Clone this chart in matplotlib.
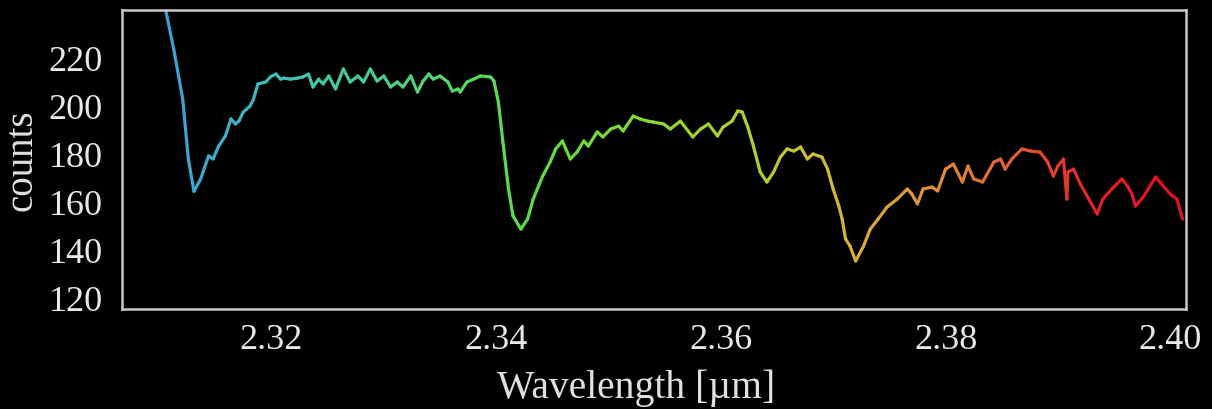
import numpy as np
import matplotlib
matplotlib.use("Agg")
import matplotlib.pyplot as plt
from matplotlib.collections import LineCollection
from matplotlib.colors import LinearSegmentedColormap

# spectrum
wavelength = [2.3103, 2.3106, 2.3113, 2.3121, 2.3126, 2.3131, 2.3137, 2.3144, 2.3148, 2.3153,
              2.3159, 2.3164, 2.3168, 2.3171, 2.3175, 2.3181, 2.3184, 2.3188, 2.3195, 2.3199,
              2.3204, 2.3208, 2.3211, 2.3217, 2.3223, 2.3228, 2.3233, 2.3237, 2.3242, 2.3246,
              2.3251, 2.3257, 2.3264, 2.3270, 2.3277, 2.3282, 2.3288, 2.3294, 2.3300, 2.3306,
              2.3312, 2.3317, 2.3324, 2.3330, 2.3335, 2.3340, 2.3344, 2.3350, 2.3357, 2.3361,
              2.3366, 2.3368, 2.3374, 2.3380, 2.3386, 2.3395, 2.3398, 2.3402, 2.3406, 2.3411,
              2.3415, 2.3422, 2.3428, 2.3433, 2.3441, 2.3448, 2.3453, 2.3459, 2.3462, 2.3466,
              2.3472, 2.3478, 2.3482, 2.3490, 2.3495, 2.3502, 2.3509, 2.3513, 2.3522, 2.3528,
              2.3535, 2.3540, 2.3549, 2.3555, 2.3564, 2.3575, 2.3582, 2.3589, 2.3597, 2.3602,
              2.3610, 2.3615, 2.3619, 2.3624, 2.3629, 2.3635, 2.3641, 2.3647, 2.3653, 2.3659,
              2.3665, 2.3671, 2.3677, 2.3682, 2.3690, 2.3695, 2.3700, 2.3705, 2.3708, 2.3711,
              2.3715, 2.3720, 2.3727, 2.3733, 2.3740, 2.3748, 2.3757, 2.3766, 2.3770, 2.3775,
              2.3780, 2.3788, 2.3793, 2.3800, 2.3807, 2.3815, 2.3820, 2.3825, 2.3833, 2.3843,
              2.3849, 2.3853, 2.3859, 2.3868, 2.3876, 2.3884, 2.3891, 2.3896, 2.3900, 2.3905,
              2.3908, 2.3909, 2.3914, 2.3920, 2.3929, 2.3935, 2.3940, 2.3948, 2.3957, 2.3962,
              2.3966, 2.3969, 2.3976, 2.3987, 2.3994, 2.4000, 2.4006, 2.4011]
counts = [252.5, 239.2, 223.3, 202.5, 177.5, 164.0, 169.2, 178.8, 177.5, 182.9,
          187.1, 194.2, 192.1, 193.3, 197.1, 199.6, 202.5, 208.8, 209.6, 211.7,
          212.9, 210.8, 211.2, 210.8, 211.2, 211.7, 212.9, 207.5, 210.8, 208.8,
          212.1, 206.7, 215.0, 209.6, 212.1, 209.6, 215.0, 210.0, 212.1, 207.5,
          209.6, 207.5, 212.1, 205.4, 210.0, 212.9, 210.8, 212.1, 209.6, 205.8,
          206.7, 205.4, 209.6, 210.8, 212.1, 211.7, 210.0, 201.2, 184.6, 165.0,
          153.8, 148.3, 152.5, 160.8, 170.0, 176.2, 181.7, 185.0, 181.7, 177.5,
          180.4, 185.0, 182.9, 188.8, 186.7, 190.0, 191.2, 189.2, 195.4, 194.2,
          193.3, 192.9, 192.1, 190.0, 193.3, 186.7, 190.0, 192.1, 187.1, 190.8,
          193.3, 197.5, 197.1, 190.8, 182.9, 172.1, 167.9, 172.1, 178.3, 181.7,
          180.8, 182.5, 177.5, 179.6, 178.3, 173.3, 165.0, 157.9, 152.5, 144.2,
          141.2, 135.0, 141.2, 148.3, 152.5, 157.5, 160.8, 165.0, 162.9, 158.8,
          165.0, 165.8, 164.2, 173.3, 175.4, 167.9, 174.6, 169.2, 167.9, 176.2,
          177.5, 173.3, 177.5, 181.7, 180.8, 180.4, 176.2, 170.4, 174.6, 177.5,
          160.8, 172.1, 173.3, 167.1, 159.6, 154.6, 160.8, 165.0, 169.2, 166.2,
          162.9, 157.9, 161.7, 170.0, 166.2, 162.9, 160.8, 152.5]

x_ticks = [2.32, 2.34, 2.36, 2.38, 2.40]
x_labels = ["2.32", "2.34", "2.36", "2.38", "2.40"]
y_ticks = [120, 140, 160, 180, 200, 220]

plt.rcParams['font.family'] = ['Liberation Serif', 'DejaVu Serif']

fig = plt.figure(figsize=(12.12, 4.10), dpi=100, facecolor='black')
ax = fig.add_axes([0.1007, 0.2439, 0.8778, 0.7293])
ax.set_facecolor('black')

pts = np.column_stack([wavelength, counts]).reshape(-1, 1, 2)
segs = np.concatenate([pts[:-1], pts[1:]], axis=1)
mids = (np.array(wavelength[:-1]) + np.array(wavelength[1:])) / 2

# blue -> green -> yellow -> orange -> red along wavelength
wl_lo, wl_hi = 2.310, 2.401
stops = [(2.310, '#3a9ed6'), (2.322, '#3fc2b4'), (2.333, '#52d27a'),
         (2.345, '#62dc3c'), (2.360, '#a6d22e'), (2.370, '#d2b836'),
         (2.380, '#e08a3a'), (2.388, '#e05030'), (2.393, '#e02424'),
         (2.401, '#e01020')]
cmap = LinearSegmentedColormap.from_list(
    'spec', [((w - wl_lo) / (wl_hi - wl_lo), c) for w, c in stops])
lc = LineCollection(segs, cmap=cmap, norm=plt.Normalize(wl_lo, wl_hi),
                    linewidth=2.3, capstyle='round', joinstyle='round')
lc.set_array(mids)
ax.add_collection(lc)

ax.set_xlim(2.3067, 2.4014)
ax.set_ylim(115, 239.6)
ax.set_xticks(x_ticks)
ax.set_xticklabels(x_labels)
ax.set_yticks(y_ticks)

for s in ax.spines.values():
    s.set_color('#c8c8c8')
    s.set_linewidth(1.8)

ax.tick_params(axis='both', length=0, labelsize=26, colors='#e8e8e8')
ax.tick_params(axis='y', pad=14)
ax.tick_params(axis='x', pad=10)

ax.set_xlabel('Wavelength [µm]', fontsize=28.5, color='#e0e0e0')
ax.xaxis.set_label_coords(0.483, -0.20)
ax.set_ylabel('counts', fontsize=28, color='#e0e0e0', labelpad=6)

fig.savefig('out.png', dpi=100, facecolor='black')
